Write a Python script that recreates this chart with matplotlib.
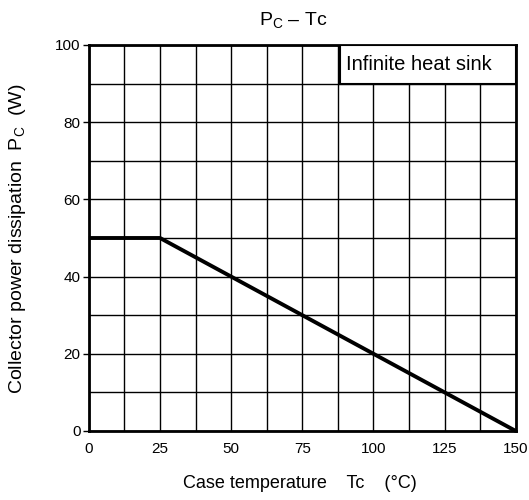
import numpy as np
import matplotlib.pyplot as plt
from matplotlib.patches import Rectangle

plt.rcParams['font.family'] = ['Liberation Sans', 'DejaVu Sans']
plt.rcParams['mathtext.fontset'] = 'custom'
plt.rcParams['mathtext.rm'] = 'Liberation Sans'
plt.rcParams['mathtext.it'] = 'Liberation Sans'

# Derating curve data
case_temp = [0, 25, 150]
power = [50, 50, 0]

x_ticks = [0, 25, 50, 75, 100, 125, 150]
y_ticks = [0, 20, 40, 60, 80, 100]

fig = plt.figure(figsize=(5.29, 5.0), dpi=100)
ax = fig.add_axes([0.168, 0.138, 0.807, 0.772])

ax.set_xlim(0, 150)
ax.set_ylim(0, 100)

# Grid every 12.5 degC and 10 W
ax.set_xticks(np.arange(0, 151, 12.5), minor=True)
ax.set_yticks(np.arange(0, 101, 10), minor=True)
ax.grid(which='both', color='black', linewidth=1.0)
ax.set_xticks(x_ticks)
ax.set_yticks(y_ticks)
ax.set_xticklabels([str(v) for v in x_ticks])
ax.tick_params(axis='x', which='both', length=0, pad=8, labelsize=11)
ax.tick_params(axis='y', which='major', length=4, width=1, labelsize=11, pad=2)
ax.tick_params(axis='y', which='minor', length=0)

for s in ax.spines.values():
    s.set_linewidth(2)
    s.set_zorder(4)

ax.plot(case_temp, power, color='black', linewidth=2.8, solid_capstyle='butt', clip_on=False, zorder=5)

# Label box in top right cells
ax.add_patch(Rectangle((88.3, 90), 150 - 88.3, 10, facecolor='white', edgecolor='black',
                       linewidth=1.5, zorder=6))
ax.text(90.2, 95, 'Infinite heat sink', ha='left', va='center', fontsize=14.5, zorder=7)

fig.text(0.554, 0.96, r'P$_\mathrm{C}$ – Tc', ha='center', va='center', fontsize=14)
fig.text(0.034, 0.523, r'Collector power dissipation  P$_\mathrm{C}$  (W)', rotation=90,
         ha='center', va='center', fontsize=14)
fig.text(0.567, 0.034, 'Case temperature    Tc    (°C)', ha='center', va='center', fontsize=13)

fig.savefig('out.png', dpi=100)
